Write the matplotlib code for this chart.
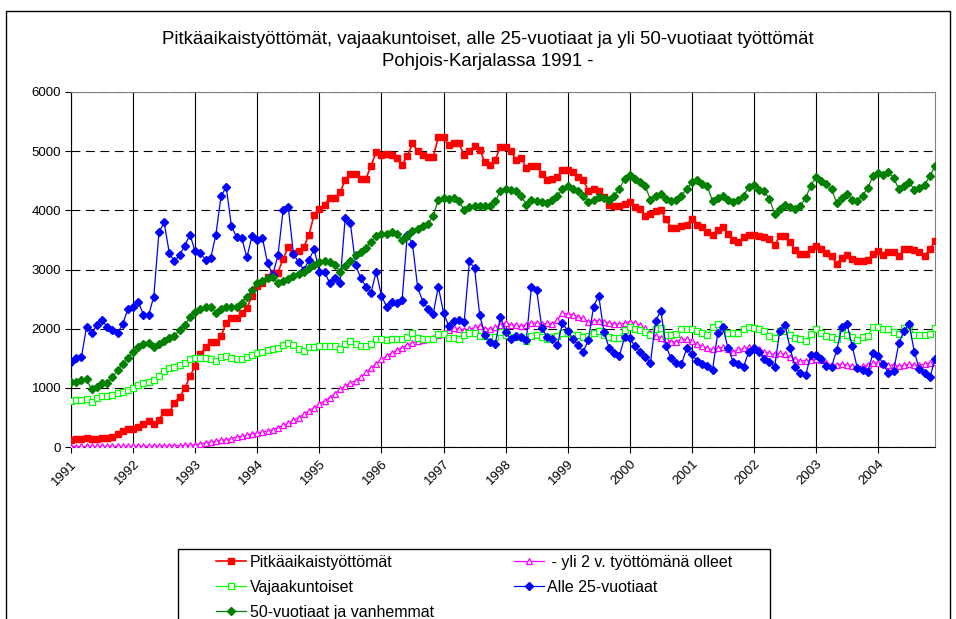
import matplotlib
matplotlib.use('Agg')
import matplotlib.pyplot as plt
from matplotlib.patches import Rectangle
import numpy as np

plt.rcParams['font.family'] = ['Liberation Sans', 'DejaVu Sans']

# monthly values Jan 1991 - Dec 2004
years = ['1991', '1992', '1993', '1994', '1995', '1996', '1997',
         '1998', '1999', '2000', '2001', '2002', '2003', '2004']

pitka = [124, 141, 141, 153, 141, 141, 158, 158, 170, 226, 271, 311,
         311, 339, 396, 435, 384, 463, 588, 588, 746, 848, 989, 1198,
         1367, 1571, 1684, 1780, 1780, 1876, 2090, 2187, 2187, 2271, 2345, 2559,
         2729, 2780, 2870, 2949, 2949, 3175, 3379, 3277, 3305, 3379, 3588, 3927,
         4023, 4096, 4209, 4209, 4305, 4509, 4617, 4617, 4531, 4531, 4757, 4983,
         4927, 4944, 4927, 4887, 4774, 4916, 5130, 5000, 4927, 4899, 4899, 5243,
         5243, 5096, 5130, 5130, 4927, 5000, 5085, 5028, 4814, 4774, 4859, 5074,
         5074, 5000, 4859, 4887, 4718, 4757, 4757, 4622, 4520, 4531, 4565, 4678,
         4678, 4644, 4565, 4520, 4322, 4362, 4322, 4226, 4096, 4079, 4079, 4113,
         4136, 4057, 4023, 3910, 3944, 3990, 4000, 3853, 3701, 3701, 3729, 3757,
         3853, 3757, 3718, 3627, 3588, 3672, 3712, 3605, 3492, 3458, 3548, 3588,
         3576, 3560, 3548, 3514, 3418, 3560, 3571, 3458, 3322, 3266, 3266, 3345,
         3390, 3345, 3277, 3232, 3096, 3192, 3249, 3175, 3136, 3136, 3153, 3266,
         3305, 3249, 3288, 3288, 3220, 3345, 3345, 3322, 3288, 3232, 3345, 3475]

yli2v = [8, 8, 9, 9, 9, 10, 10, 10, 10, 11, 11, 12,
         12, 13, 13, 14, 15, 16, 18, 20, 22, 25, 28, 32,
         40, 52, 68, 85, 102, 113, 124, 141, 170, 181, 198, 226,
         237, 254, 271, 294, 328, 367, 407, 452, 497, 554, 610, 667,
         723, 780, 836, 904, 972, 1028, 1085, 1120, 1180, 1260, 1340, 1410,
         1480, 1540, 1590, 1640, 1680, 1720, 1760, 1790, 1810, 1830, 1850, 1890,
         1930, 1980, 2010, 2000, 1970, 1990, 2020, 2040, 2000, 1990, 2020, 2062,
         2102, 2062, 2062, 2045, 2062, 2102, 2090, 2079, 2090, 2079, 2147, 2260,
         2249, 2232, 2204, 2175, 2119, 2136, 2136, 2119, 2090, 2079, 2079, 2090,
         2119, 2090, 2062, 2006, 1930, 1870, 1850, 1819, 1780, 1780, 1819, 1819,
         1797, 1740, 1706, 1667, 1650, 1667, 1684, 1650, 1610, 1650, 1667, 1684,
         1667, 1650, 1610, 1582, 1571, 1582, 1571, 1526, 1480, 1458, 1458, 1469,
         1480, 1469, 1424, 1384, 1384, 1401, 1384, 1367, 1356, 1367, 1384, 1412,
         1424, 1401, 1384, 1384, 1367, 1384, 1401, 1384, 1384, 1401, 1424, 1441]

vajaa = [780, 791, 802, 819, 763, 836, 859, 859, 876, 915, 932, 960,
         989, 1045, 1074, 1102, 1130, 1198, 1288, 1328, 1356, 1384, 1412, 1480,
         1497, 1497, 1497, 1480, 1458, 1514, 1537, 1497, 1480, 1480, 1526, 1554,
         1582, 1610, 1638, 1650, 1667, 1723, 1763, 1723, 1650, 1627, 1684, 1695,
         1706, 1706, 1706, 1706, 1650, 1740, 1797, 1740, 1706, 1706, 1740, 1819,
         1819, 1808, 1819, 1819, 1819, 1865, 1921, 1836, 1819, 1819, 1819, 1910,
         1910, 1836, 1836, 1819, 1893, 1932, 1921, 1876, 1876, 1865, 1865, 1949,
         1893, 1865, 1853, 1853, 1797, 1876, 1893, 1865, 1819, 1853, 1876, 1932,
         1932, 1893, 1893, 1865, 1876, 1932, 1966, 1893, 1853, 1836, 1836, 1978,
         2023, 1989, 1978, 1949, 1893, 1989, 2006, 1893, 1893, 1910, 1989, 1989,
         1989, 1966, 1921, 1893, 2023, 2079, 1989, 1921, 1921, 1921, 1989, 2023,
         2006, 1989, 1966, 1876, 1836, 1966, 1966, 1893, 1836, 1819, 1797, 1910,
         1989, 1921, 1876, 1853, 1819, 1932, 1893, 1853, 1808, 1853, 1876, 2023,
         2023, 1989, 1989, 1949, 1910, 2006, 2062, 1893, 1893, 1893, 1910, 2006]

alle25 = [1441, 1497, 1514, 2023, 1921, 2062, 2147, 2023, 1977, 1921, 2079, 2333,
          2373, 2458, 2232, 2226, 2543, 3627, 3797, 3277, 3136, 3249, 3401, 3588,
          3305, 3277, 3164, 3192, 3588, 4238, 4396, 3740, 3548, 3531, 3204, 3571,
          3503, 3531, 3108, 2910, 3237, 4000, 4051, 3260, 3119, 2994, 3164, 3345,
          2966, 2966, 2769, 2853, 2780, 3870, 3786, 3079, 2853, 2712, 2610, 2966,
          2554, 2373, 2458, 2430, 2486, 3588, 3435, 2701, 2458, 2339, 2243, 2712,
          2271, 2045, 2130, 2147, 2119, 3136, 3023, 2226, 1893, 1780, 1740, 2204,
          1949, 1819, 1876, 1865, 1808, 2712, 2656, 2017, 1853, 1819, 1723, 2090,
          1966, 1825, 1723, 1610, 1808, 2373, 2559, 1949, 1678, 1593, 1542, 1853,
          1836, 1706, 1610, 1525, 1424, 2130, 2305, 1706, 1497, 1424, 1401, 1667,
          1565, 1458, 1401, 1367, 1300, 1921, 2023, 1667, 1441, 1401, 1356, 1610,
          1667, 1610, 1480, 1441, 1356, 1966, 2062, 1667, 1345, 1243, 1215, 1554,
          1554, 1480, 1367, 1356, 1638, 2023, 2079, 1706, 1328, 1300, 1271, 1582,
          1542, 1401, 1254, 1288, 1751, 1966, 2073, 1610, 1311, 1254, 1175, 1480]

yli50 = [1102, 1102, 1130, 1141, 972, 1006, 1074, 1085, 1175, 1300, 1401, 1497,
         1610, 1695, 1740, 1763, 1695, 1740, 1797, 1836, 1876, 1978, 2062, 2192,
         2288, 2328, 2362, 2373, 2271, 2328, 2373, 2362, 2373, 2441, 2543, 2656,
         2769, 2814, 2853, 2870, 2769, 2814, 2836, 2882, 2927, 2966, 3023, 3079,
         3119, 3136, 3119, 3079, 2966, 3051, 3136, 3240, 3300, 3370, 3470, 3560,
         3605, 3605, 3627, 3605, 3492, 3571, 3644, 3684, 3729, 3774, 3910, 4170,
         4209, 4192, 4209, 4153, 4000, 4057, 4079, 4068, 4079, 4068, 4153, 4320,
         4362, 4339, 4322, 4249, 4096, 4181, 4153, 4136, 4125, 4181, 4238, 4362,
         4407, 4362, 4322, 4249, 4136, 4170, 4226, 4209, 4181, 4249, 4362, 4531,
         4605, 4531, 4475, 4407, 4181, 4249, 4283, 4192, 4153, 4170, 4249, 4362,
         4475, 4520, 4452, 4407, 4153, 4209, 4249, 4181, 4136, 4181, 4249, 4396,
         4435, 4351, 4322, 4192, 3944, 4023, 4096, 4057, 4023, 4079, 4209, 4418,
         4565, 4492, 4452, 4362, 4125, 4209, 4283, 4181, 4153, 4249, 4379, 4577,
         4633, 4605, 4644, 4548, 4362, 4418, 4475, 4351, 4379, 4435, 4577, 4746]

W, H = 956, 619
fig = plt.figure(figsize=(W / 100, H / 100), dpi=100)
ax = fig.add_axes([71 / W, 1 - 447 / H, (935 - 71) / W, (447 - 92) / H])

x = np.arange(len(pitka))
l_pitka, = ax.plot(x, pitka, color='#FF0000', lw=1.2, marker='s', ms=5,
                   mfc='#FF0000', mec='#FF0000', zorder=3)
l_yli2, = ax.plot(x, yli2v, color='#FF00FF', lw=0.9, marker='^', ms=5,
                  mfc='white', mec='#FF00FF', mew=0.9, zorder=4)
l_vajaa, = ax.plot(x, vajaa, color='#00FF00', lw=0.9, marker='s', ms=4.8,
                   mfc='white', mec='#00FF00', mew=0.9, zorder=5)
l_alle, = ax.plot(x, alle25, color='#0000FF', lw=0.9, marker='D', ms=4,
                  mfc='#0000FF', mec='#0000FF', zorder=6)
l_yli50, = ax.plot(x, yli50, color='#008000', lw=0.9, marker='D', ms=3.6,
                   mfc='#008000', mec='#008000', zorder=7)

ax.set_xlim(0, len(pitka) - 1)
ax.set_ylim(0, 6000)
ax.set_yticks(np.arange(0, 6001, 1000))
ax.set_xticks(np.arange(0, len(pitka), 12))
ax.set_xticklabels(years, rotation=45, ha='right', va='top', rotation_mode='anchor')
ax.tick_params(axis='both', direction='out', length=4, width=0.8, labelsize=9.5, colors='black')
ax.tick_params(axis='x', pad=4)
ax.tick_params(axis='y', pad=3)

ax.xaxis.grid(True, color='black', lw=0.8)
ax.yaxis.grid(True, color='black', lw=0.8, ls=(0, (8, 5)))
ax.set_axisbelow(True)
for side in ['top', 'right']:
    ax.spines[side].set_color('#808080')
for side in ['left', 'bottom']:
    ax.spines[side].set_color('black')

fig.text(488 / W, 1 - 40 / H,
         'Pitkäaikaistyöttömät, vajaakuntoiset, alle 25-vuotiaat ja yli 50-vuotiaat työttömät',
         ha='center', va='center', fontsize=13.4)
fig.text(488 / W, 1 - 62 / H, 'Pohjois-Karjalassa 1991 -',
         ha='center', va='center', fontsize=13.4)

# outer chart frame and legend box
fig.add_artist(Rectangle((6 / W, -0.1), (950 - 6) / W, 1 - 11 / H + 0.1,
                         transform=fig.transFigure, fill=False, ec='black', lw=1))
fig.add_artist(Rectangle((178 / W, -0.1), (770 - 178) / W, 1 - 549 / H + 0.1,
                         transform=fig.transFigure, fill=False, ec='black', lw=1))

handles = [l_pitka, l_vajaa, l_yli50, l_yli2, l_alle]
labels = ['Pitkäaikaistyöttömät', 'Vajaakuntoiset', '50-vuotiaat ja vanhemmat',
          ' - yli 2 v. työttömänä olleet', 'Alle 25-vuotiaat']
fig.legend(handles, labels, ncol=2, loc='upper left',
           bbox_to_anchor=(216 / W, 1 - 555 / H), frameon=False, fontsize=11.5,
           handlelength=1.9, handletextpad=0.2, columnspacing=5.0,
           labelspacing=0.62, borderpad=0, borderaxespad=0)

fig.savefig('out.png', dpi=100)
